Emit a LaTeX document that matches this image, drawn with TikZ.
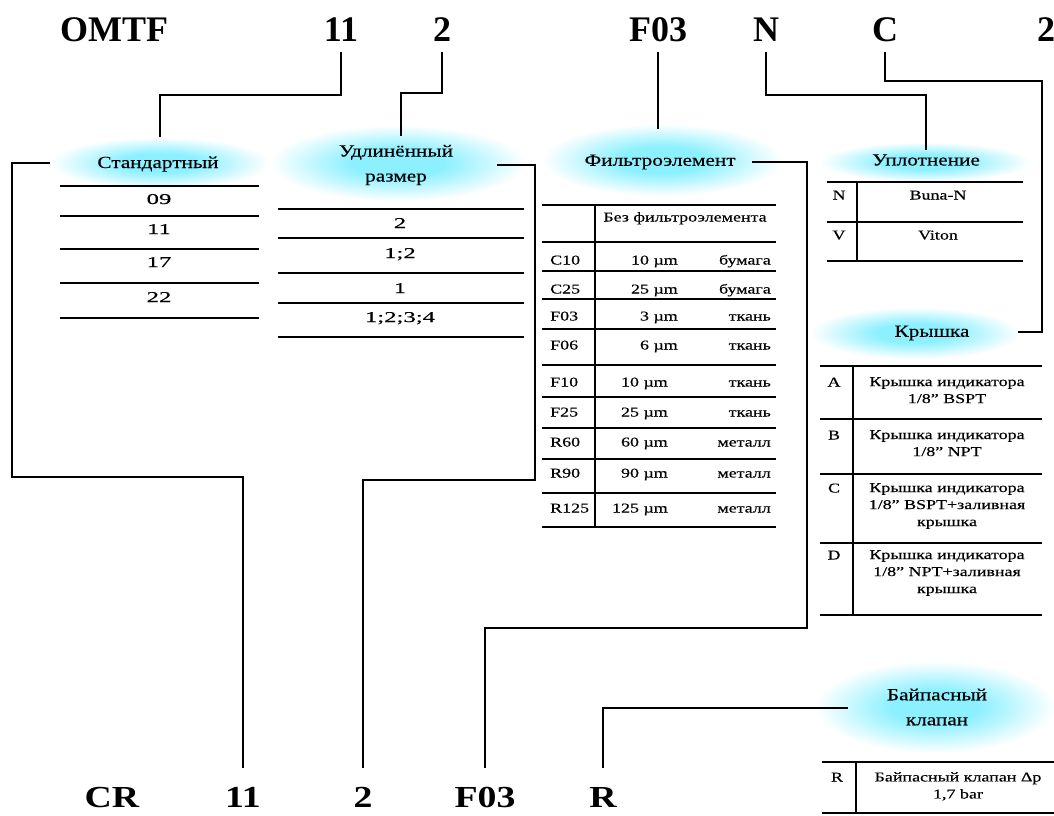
\documentclass[tikz,border=0pt]{standalone}
\usepackage{fontspec}
\usepackage{graphicx}
\setmainfont{Liberation Serif}
\newfontfamily\tfont[FakeStretch=1.25,FakeBold=0.3]{Liberation Serif}
\newfontfamily\cfont[FakeStretch=1.33,FakeBold=0.4]{Liberation Serif}
\newfontfamily\wfont[FakeStretch=1.65,FakeBold=0.4]{Liberation Serif}
\definecolor{glowc}{RGB}{140,240,255}
\pgfdeclareradialshading{glow}{\pgfpoint{0bp}{0bp}}{color(0bp)=(glowc); color(9bp)=(glowc); color(25bp)=(white); color(50bp)=(white)}
\begin{document}
\begin{tikzpicture}[x=1pt,y=-1pt,
  hdr/.style={font=\fontsize{36}{36}\selectfont\bfseries, inner sep=0pt, outer ysep=11pt, anchor=base},
  bot/.style={font=\fontsize{36}{36}\selectfont\bfseries, inner sep=0pt, outer ysep=19pt, anchor=base},
  title/.style={font=\tfont\fontsize{17}{25}\selectfont, align=center, inner sep=1pt},
  cell/.style={font=\cfont\fontsize{13.5}{17}\selectfont, inner sep=0pt, anchor=base},
  wcell/.style={font=\wfont\fontsize{15}{17}\selectfont, inner sep=0pt, anchor=base},
  mcell/.style={font=\cfont\fontsize{13.5}{17}\selectfont, inner sep=0pt, anchor=north, align=center},
  conn/.style={line width=1.3pt},
  rule/.style={line width=1.3pt},
  glowarea/.style={shading=glow}]
\useasboundingbox (0,0) rectangle (1054,815);

% glows
\shade[glowarea] (160,163) ellipse [x radius=110, y radius=26];
\shade[glowarea] (398,163) ellipse [x radius=128, y radius=38];
\shade[glowarea] (662,160) ellipse [x radius=120, y radius=36];
\shade[glowarea] (925,162) ellipse [x radius=105, y radius=20];
\shade[glowarea] (915,333) ellipse [x radius=105, y radius=26];
\shade[glowarea] (935,707) ellipse [x radius=120, y radius=46];

% header code
\node[hdr] (hO) at (114,41) {OMTF};
\node[hdr] (h11) at (341,41) {11};
\node[hdr] (h2) at (442,41) {2};
\node[hdr] (hF) at (658,41) {F03};
\node[hdr] (hN) at (766,41) {N};
\node[hdr] (hC) at (885,41) {C};
\node[hdr] (h2b) at (1046,41) {2};

% bottom code
\node[bot] (bCR) at (112,807) {\scalebox{1.05}[0.85]{CR}};
\node[bot] (b11) at (243,807) {\scalebox{1.05}[0.85]{11}};
\node[bot] (b2) at (363,807) {\scalebox{1.05}[0.85]{2}};
\node[bot] (bF) at (485,807) {\scalebox{1.05}[0.85]{F03}};
\node[bot] (bR) at (603,807) {\scalebox{1.05}[0.85]{R}};

% titles
\node[title] (tStd) at (158,164) {Стандартный};
\node[title] (tExt) at (396,165) {Удлинённый\\размер};
\node[title] (tFilt) at (660,162) {Фильтроэлемент};
\node[title] (tSeal) at (926,160) {Уплотнение};
\node[title] (tCap) at (932,333) {Крышка};
\node[title] (tBy) at (937,707) {Байпасный\\клапан};

% connector ends
\coordinate (eStdT) at (160,137);
\coordinate (eExtT) at (401,136);
\coordinate (eFiltT) at (658,129);
\coordinate (eSealT) at (926,150);
\coordinate (eCapE) at (1018,332);
\coordinate (eStdW) at (50,163);
\coordinate (eExtE) at (497,165);
\coordinate (eFiltE) at (752,162);
\coordinate (eByW) at (848,708);

% connectors
\draw[conn] (h11.south) |- (160,95) -- (eStdT);
\draw[conn] (h2.south) |- (401,93) -- (eExtT);
\draw[conn] (hF.south) -- (eFiltT);
\draw[conn] (hN.south) |- (926,95) -- (eSealT);
\draw[conn] (hC.south) |- (1042,81) |- (eCapE);
\draw[conn] (eStdW) -| (12,477) -| (b11.north);
\draw[conn] (eExtE) -| (535,480) -| (b2.north);
\draw[conn] (eFiltE) -| (807,628) -| (bF.north);
\draw[conn] (eByW) -| (bR.north);

% Standard table
\foreach \y in {186,216,249,283,318} \draw[rule] (60,\y) -- (259,\y);
\foreach \t/\y [count=\i] in {09/204,11/234,17/267,22/302}
  \node[wcell] (std\i) at (159,\y) {\t};

% Extended table
\foreach \y in {209,238,273,303,337} \draw[rule] (278,\y) -- (524,\y);
\foreach \t/\y [count=\i] in {2/228,1;2/258,1/293,1;2;3;4/322}
  \node[wcell] (ext\i) at (400,\y) {\t};

% Filter table
\foreach \y in {205,242,271,299,329,365,397,428,459,493,527} \draw[rule] (542,\y) -- (776,\y);
\draw[rule] (595,205) -- (595,527);
\node[cell] (f0) at (685,221.5) {Без фильтроэлемента};
\foreach \c/\v/\m/\y/\r [count=\i] in {C10/10 µm/бумага/264.5/678, C25/25 µm/бумага/293.5/678, F03/3 µm/ткань/320.5/678, F06/6 µm/ткань/349.5/678, F10/10 µm/ткань/386.5/668, F25/25 µm/ткань/416.5/668, R60/60 µm/металл/446.5/668, R90/90 µm/металл/477.5/668, R125/125 µm/металл/512.5/668}{
  \node[cell,anchor=base west] (fc\i) at (550,\y) {\c};
  \node[cell,anchor=base east] (fv\i) at (\r,\y) {\v};
  \node[cell,anchor=base east] (fm\i) at (771,\y) {\m};
}

% Seal table
\foreach \y in {182,222,261} \draw[rule] (827,\y) -- (1023,\y);
\draw[rule] (857,182) -- (857,261);
\node[cell] (sN) at (839,199.5) {N};
\node[cell] (sNt) at (938,199.5) {Buna-N};
\node[cell] (sV) at (839,239.5) {V};
\node[cell] (sVt) at (938,239.5) {Viton};

% Cap table
\foreach \y in {366,419,474,543,615} \draw[rule] (820,\y) -- (1042,\y);
\draw[rule] (853,366) -- (853,615);
\node[cell] (cA) at (834,386.5) {A};
\node[cell] (cB) at (834,439.5) {B};
\node[cell] (cC) at (834,492.5) {C};
\node[cell] (cD) at (834,559.5) {D};
\node[mcell] (cAt) at (947,377) {Крышка индикатора\\1/8” BSPT};
\node[mcell] (cBt) at (947,430) {Крышка индикатора\\1/8” NPT};
\node[mcell] (cCt) at (947,483) {Крышка индикатора\\1/8” BSPT+заливная\\крышка};
\node[mcell] (cDt) at (947,550) {Крышка индикатора\\1/8” NPT+заливная\\крышка};

% Bypass table
\draw[rule] (822,762) -- (1054,762);
\draw[rule] (822,813) -- (1054,813);
\draw[rule] (856,762) -- (856,813);
\node[cell] (bpR) at (837,781.5) {R};
\node[mcell] (bpT) at (958,772) {Байпасный клапан Δp\\1,7 bar};
\end{tikzpicture}
\end{document}
